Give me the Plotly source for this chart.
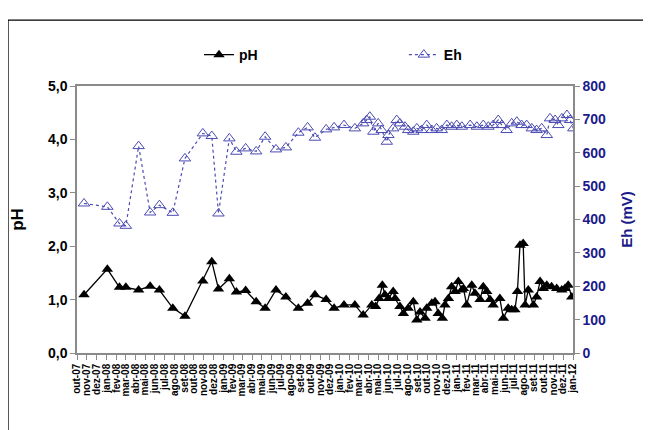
import plotly.graph_objects as go

# ---- data ----
ph_dates = [
    "2007-10-23", "2008-01-04", "2008-02-11", "2008-03-02", "2008-04-11", "2008-05-17",
    "2008-06-15", "2008-07-27", "2008-09-03", "2008-10-29", "2008-11-26", "2008-12-17",
    "2009-01-20", "2009-02-11", "2009-03-12", "2009-04-14", "2009-05-12", "2009-06-15",
    "2009-07-16", "2009-08-24", "2009-09-22", "2009-10-15", "2009-11-19", "2009-12-14",
    "2010-01-14", "2010-02-17", "2010-03-15", "2010-04-11", "2010-04-23", "2010-05-04",
    "2010-05-14", "2010-05-22", "2010-06-02", "2010-06-17", "2010-06-23", "2010-07-08",
    "2010-07-19", "2010-08-03", "2010-08-19", "2010-08-30", "2010-09-09", "2010-09-25",
    "2010-09-30", "2010-10-16", "2010-10-26", "2010-11-05", "2010-11-18", "2010-11-26",
    "2010-12-07", "2010-12-17", "2010-12-28", "2011-01-07", "2011-01-18", "2011-01-23",
    "2011-02-02", "2011-02-18", "2011-02-28", "2011-03-16", "2011-03-26", "2011-04-06",
    "2011-04-16", "2011-04-26", "2011-05-17", "2011-05-28", "2011-06-12", "2011-06-23",
    "2011-07-03", "2011-07-11", "2011-07-19", "2011-07-29", "2011-08-04", "2011-08-14",
    "2011-08-30", "2011-09-09", "2011-09-20", "2011-09-30", "2011-10-11", "2011-10-26",
    "2011-11-11", "2011-11-27", "2011-12-07", "2011-12-17", "2011-12-28",
]
ph_values = [
    1.09, 1.57, 1.23, 1.23, 1.18, 1.25,
    1.18, 0.84, 0.69, 1.35, 1.71, 1.20,
    1.39, 1.14, 1.17, 0.96, 0.84, 1.18,
    1.05, 0.84, 0.93, 1.09, 1.00, 0.84,
    0.90, 0.90, 0.71, 0.90, 0.87, 1.02,
    1.27, 1.09, 1.02, 1.15, 1.02, 0.87,
    0.74, 0.84, 0.96, 0.62, 0.77, 0.65,
    0.84, 0.93, 0.96, 0.74, 0.65, 0.90,
    1.02, 1.24, 1.15, 1.34, 1.18, 1.21,
    0.90, 1.27, 1.12, 1.00, 1.24, 1.15,
    1.00, 0.90, 1.02, 0.65, 0.84, 0.81,
    0.81, 1.15, 2.02, 2.05, 0.90, 1.18,
    0.90, 1.05, 1.34, 1.21, 1.27, 1.24,
    1.21, 1.18, 1.21, 1.27, 1.05,
]

eh_dates = [
    "2007-10-23", "2008-01-04", "2008-02-11", "2008-03-02", "2008-04-11", "2008-05-17",
    "2008-06-15", "2008-07-27", "2008-09-03", "2008-10-29", "2008-11-26", "2008-12-17",
    "2009-01-20", "2009-02-11", "2009-03-12", "2009-04-14", "2009-05-12", "2009-06-15",
    "2009-07-16", "2009-08-24", "2009-09-22", "2009-10-15", "2009-11-19", "2009-12-14",
    "2010-01-14", "2010-02-17", "2010-03-15", "2010-03-26", "2010-04-05", "2010-04-16",
    "2010-05-01", "2010-05-12", "2010-05-28", "2010-06-02", "2010-06-17", "2010-06-28",
    "2010-07-08", "2010-07-24", "2010-08-03", "2010-08-19", "2010-08-30", "2010-09-14",
    "2010-09-30", "2010-10-16", "2010-10-31", "2010-11-16", "2010-12-02", "2010-12-17",
    "2011-01-02", "2011-01-18", "2011-02-13", "2011-03-06", "2011-03-26", "2011-04-11",
    "2011-04-26", "2011-05-12", "2011-05-23", "2011-06-07", "2011-06-23", "2011-07-09",
    "2011-07-24", "2011-08-09", "2011-08-25", "2011-09-09", "2011-09-25", "2011-10-11",
    "2011-10-21", "2011-11-06", "2011-11-16", "2011-11-27", "2011-12-13", "2011-12-23",
    "2012-01-02",
]
eh_values = [
    448, 438, 388, 381, 620, 421,
    443, 420, 583, 658, 650, 418,
    643, 603, 613, 604, 648, 610,
    616, 660, 676, 645, 670, 676,
    683, 673, 688, 698, 708, 663,
    688, 668, 633, 653, 673, 698,
    688, 678, 668, 663, 673, 668,
    683, 668, 673, 668, 683, 678,
    683, 678, 683, 678, 683, 678,
    683, 698, 683, 668, 688, 693,
    683, 683, 673, 668, 673, 653,
    703, 698, 683, 703, 713, 698,
    673,
]

month_ticks = [
    "2007-10-01", "2007-11-01", "2007-12-01",
    "2008-01-01", "2008-02-01", "2008-03-01", "2008-04-01", "2008-05-01", "2008-06-01",
    "2008-07-01", "2008-08-01", "2008-09-01", "2008-10-01", "2008-11-01", "2008-12-01",
    "2009-01-01", "2009-02-01", "2009-03-01", "2009-04-01", "2009-05-01", "2009-06-01",
    "2009-07-01", "2009-08-01", "2009-09-01", "2009-10-01", "2009-11-01", "2009-12-01",
    "2010-01-01", "2010-02-01", "2010-03-01", "2010-04-01", "2010-05-01", "2010-06-01",
    "2010-07-01", "2010-08-01", "2010-09-01", "2010-10-01", "2010-11-01", "2010-12-01",
    "2011-01-01", "2011-02-01", "2011-03-01", "2011-04-01", "2011-05-01", "2011-06-01",
    "2011-07-01", "2011-08-01", "2011-09-01", "2011-10-01", "2011-11-01", "2011-12-01",
    "2012-01-01",
]
month_labels = [
    "out-07", "nov-07", "dez-07",
    "jan-08", "fev-08", "mar-08", "abr-08", "mai-08", "jun-08",
    "jul-08", "ago-08", "set-08", "out-08", "nov-08", "dez-08",
    "jan-09", "fev-09", "mar-09", "abr-09", "mai-09", "jun-09",
    "jul-09", "ago-09", "set-09", "out-09", "nov-09", "dez-09",
    "jan-10", "fev-10", "mar-10", "abr-10", "mai-10", "jun-10",
    "jul-10", "ago-10", "set-10", "out-10", "nov-10", "dez-10",
    "jan-11", "fev-11", "mar-11", "abr-11", "mai-11", "jun-11",
    "jul-11", "ago-11", "set-11", "out-11", "nov-11", "dez-11",
    "jan-12",
]

FONT = "Liberation Sans, Arial, sans-serif"
EH_COLOR = "#4b4bb3"
NAVY = "#1a1a8a"
AXIS_GRAY = "#8a8a8a"

fig = go.Figure()
fig.add_trace(go.Scatter(
    x=ph_dates, y=ph_values, name="pH", mode="lines+markers",
    line=dict(color="black", width=1.3),
    marker=dict(symbol="triangle-up", size=10, color="black"),
    yaxis="y", legend="legend",
))
fig.add_trace(go.Scatter(
    x=eh_dates, y=eh_values, name="Eh", mode="lines+markers",
    line=dict(color=EH_COLOR, width=1.2, dash="dot"),
    marker=dict(symbol="triangle-up-open", size=10, color=EH_COLOR, line=dict(width=1)),
    yaxis="y2", legend="legend2",
))

legend_font = dict(family=FONT, size=14, color="black", weight="bold")

fig.update_layout(
    width=651, height=430,
    margin=dict(l=69, r=86, t=78, b=85, autoexpand=False),
    paper_bgcolor="white", plot_bgcolor="white",
    separators=",.",
    font=dict(family=FONT, size=12, color="black"),
    showlegend=True,
    legend=dict(
        orientation="h", x=0.246, y=1.116, xanchor="left", yanchor="middle",
        font=legend_font, bgcolor="rgba(0,0,0,0)", itemwidth=30,
    ),
    legend2=dict(
        orientation="h", x=0.659, y=1.116, xanchor="left", yanchor="middle",
        font=legend_font, bgcolor="rgba(0,0,0,0)", itemwidth=30,
    ),
    xaxis=dict(
        type="date", range=["2007-10-01", "2012-01-01"],
        tickmode="array", tickvals=month_ticks, ticktext=month_labels,
        tickangle=-90, tickfont=dict(family=FONT, size=10, color="black", weight="bold"),
        ticks="outside", ticklen=5, tickcolor=AXIS_GRAY,
        showline=True, linecolor=AXIS_GRAY, linewidth=1.5, mirror=True,
        showgrid=False, zeroline=False, automargin=False,
    ),
    yaxis=dict(
        range=[0, 5], dtick=1, tickformat=".1f",
        tickfont=dict(family=FONT, size=14, color="black", weight="bold"),
        ticks="outside", ticklen=5, tickcolor=AXIS_GRAY,
        showline=True, linecolor=AXIS_GRAY, linewidth=1.5,
        showgrid=False, zeroline=False, automargin=False,
        title=dict(text="pH", font=dict(family=FONT, size=17, color="black", weight="bold"), standoff=22),
    ),
    yaxis2=dict(
        range=[0, 800], dtick=100, overlaying="y", side="right",
        tickfont=dict(family=FONT, size=14, color=NAVY, weight="bold"),
        ticks="outside", ticklen=5, tickcolor=AXIS_GRAY,
        showline=True, linecolor=AXIS_GRAY, linewidth=1.5,
        showgrid=False, zeroline=False, automargin=False,
        title=dict(text="Eh (mV)", font=dict(family=FONT, size=15, color=NAVY, weight="bold"), standoff=16),
    ),
    shapes=[dict(
        type="rect", xref="paper", yref="paper",
        x0=-0.139, x1=1.145, y0=-0.35, y1=1.247,
        line=dict(color="black", width=1.2), fillcolor="rgba(0,0,0,0)", layer="below",
    )],
)

fig.write_html("out.html")
